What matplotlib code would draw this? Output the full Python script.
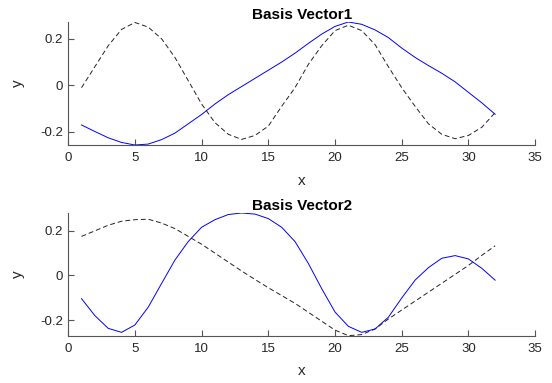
import matplotlib
matplotlib.use("Agg")
import matplotlib.pyplot as plt
import numpy as np

plt.rcParams["font.family"] = ["Liberation Sans", "DejaVu Sans"]

x = np.arange(1, 33)

# Basis vector 1
v1_blue = [-0.17, -0.198, -0.225, -0.245, -0.256, -0.252, -0.233, -0.205,
           -0.165, -0.125, -0.08, -0.04, -0.005, 0.03, 0.065, 0.10,
           0.138, 0.18, 0.22, 0.253, 0.272, 0.262, 0.238, 0.205,
           0.16, 0.12, 0.085, 0.052, 0.015, -0.03, -0.075, -0.124]
v1_dash = [-0.01, 0.08, 0.17, 0.24, 0.27, 0.25, 0.20, 0.12,
           0.02, -0.08, -0.16, -0.21, -0.232, -0.215, -0.175, -0.09,
           -0.01, 0.09, 0.17, 0.235, 0.258, 0.235, 0.175, 0.08,
           -0.01, -0.09, -0.165, -0.21, -0.229, -0.215, -0.18, -0.117]

# Basis vector 2
v2_blue = [-0.104, -0.18, -0.237, -0.255, -0.222, -0.142, -0.036, 0.069,
           0.152, 0.216, 0.25, 0.273, 0.28, 0.275, 0.255, 0.216,
           0.152, 0.054, -0.059, -0.164, -0.228, -0.255, -0.24, -0.187,
           -0.101, -0.021, 0.035, 0.077, 0.089, 0.074, 0.032, -0.021]
v2_dash = [0.175, 0.20, 0.225, 0.243, 0.25, 0.252, 0.235, 0.21,
           0.175, 0.14, 0.10, 0.06, 0.02, -0.018, -0.055, -0.09,
           -0.125, -0.165, -0.205, -0.245, -0.27, -0.265, -0.24, -0.195,
           -0.155, -0.115, -0.075, -0.035, 0.005, 0.045, 0.09, 0.133]

titles = ["Basis Vector1", "Basis Vector2"]
panels = [(v1_blue, v1_dash), (v2_blue, v2_dash)]
AX_COLOR = "#555555"

fig = plt.figure(figsize=(5.52, 3.83), dpi=100)
rects = [[0.1235, 0.6214, 0.846, 0.3212], [0.1235, 0.1235, 0.846, 0.3204]]

for rect, title, (blue, dash) in zip(rects, titles, panels):
    ax = fig.add_axes(rect)
    ax.plot(x, dash, color="#222222", lw=0.7, ls=(0, (5, 3)))
    ax.plot(x, blue, color="blue", lw=0.7)
    lo = min(min(blue), min(dash))
    hi = max(max(blue), max(dash))
    ax.set_xlim(0, 35)
    ax.set_ylim(lo, hi)
    ax.set_xticks(range(0, 36, 5))
    ax.set_yticks([-0.2, 0, 0.2])
    ax.set_yticklabels(["-0.2", "0", "0.2"])
    ax.spines["top"].set_visible(False)
    ax.spines["right"].set_visible(False)
    for s in ("left", "bottom"):
        ax.spines[s].set_color(AX_COLOR)
        ax.spines[s].set_linewidth(0.8)
    ax.tick_params(direction="in", length=4, width=0.8, color=AX_COLOR,
                   labelsize=9.5, labelcolor="#262626")
    ax.tick_params(axis="x", pad=5)
    ax.set_title(title, fontsize=11, fontweight="bold", pad=2)
    ax.set_xlabel("x", fontsize=11, color="#262626", labelpad=7)
    ax.set_ylabel("y", fontsize=11, color="#262626", labelpad=11)

fig.savefig("out.png", dpi=100)
